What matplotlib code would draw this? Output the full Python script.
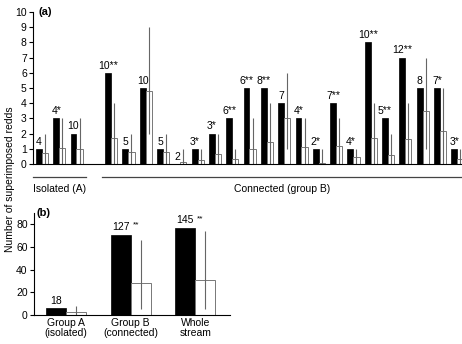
import numpy as np
import matplotlib
matplotlib.use("Agg")
import matplotlib.pyplot as plt
import matplotlib.transforms as mtransforms

plt.rcParams['font.family'] = ['Liberation Sans', 'DejaVu Sans']

# panel (a): pairs of observed (black) / expected (white) per reach
labels_a = ["4", "4*", "10", "10**", "5", "10", "5", "2", "3*", "3*", "6**",
            "6**", "8**", "7", "4*", "2*", "7**", "4*", "10**", "5**", "12**",
            "8", "7*", "3*"]
slots_a = [0, 1, 2, 4, 5, 6, 7, 8, 9, 10, 11, 12, 13, 14, 15, 16, 17, 18,
           19, 20, 21, 22, 23, 24]
observed_a = [1, 3, 2, 6, 1, 5, 1, 0, 1, 2, 3, 5, 5, 4, 3, 1, 4, 1, 8, 3, 7,
              5, 5, 1]
expected_a = [0.7, 1.05, 1.0, 1.7, 0.8, 4.8, 0.8, 0.1, 0.25, 0.65, 0.3,
              0.97, 1.47, 3.05, 1.14, 0.05, 1.2, 0.44, 1.7, 0.6, 1.65, 3.5,
              2.17, 0.35]
lo_a = [0, 0, 0, 0, 0, 2, 0, 0, 0, 0, 0, 0, 0, 1, 0, 0, 0, 0, 0, 0, 0, 1, 0, 0]
hi_a = [2, 3, 3, 4, 2, 9, 2, 1, 1, 2, 1, 3, 4, 6, 3, 1, 3, 1, 4, 2, 4, 7, 5, 1]

group_names = ["Isolated (A)", "Connected (group B)"]
group_spans = [(-0.17, 2.89), (3.81, 25.5)]

# panel (b): totals
groups_b = ["Group A\n(isolated)", "Group B\n(connected)", "Whole\nstream"]
observed_b = [6, 71, 77]
expected_b = [3, 28, 31]
lo_b = [0, 5, 5]
hi_b = [8, 66, 74]
labels_b = ["18", "127", "145"]
stars_b = ["", "**", "**"]

W, H = 462, 344
fig = plt.figure(figsize=(W / 100, H / 100), dpi=100)
edge = "#777777"
errc = "#666666"
fs = 7.5

# ---------- panel (a)
ax = fig.add_axes([33 / W, 1 - 164 / H, 1 - 33 / W, 152 / H])
x = np.array(slots_a, dtype=float)
bw, ww = 0.34, 0.36
ax.bar(x, observed_a, width=bw, align='edge', color='black', edgecolor='black', lw=0.5)
ax.bar(x + bw, expected_a, width=ww, align='edge', color='white', edgecolor=edge, lw=0.7)
ax.vlines(x + bw + ww / 2, lo_a, hi_a, color=errc, lw=0.8)
for xi, v, t in zip(x, observed_a, labels_a):
    ax.text(xi + bw / 2, v + 0.15, t, ha='center', va='bottom', fontsize=fs)
ax.set_xlim(-0.17, 24.62)
ax.set_ylim(0, 10)
ax.set_yticks(range(11))
ax.set_xticks([])
for s in ['top', 'right']:
    ax.spines[s].set_visible(False)
ax.spines['left'].set_linewidth(0.8)
ax.spines['bottom'].set_linewidth(0.8)
ax.tick_params(axis='y', labelsize=fs, length=3, width=0.8, pad=1.5)
ax.text(0.012, 1.0, "(a)", transform=ax.transAxes, fontsize=8, fontweight='bold',
        va='center', ha='left')
trans = mtransforms.blended_transform_factory(ax.transData, ax.transAxes)
for name, (a, b) in zip(group_names, group_spans):
    ax.plot([a, b], [-0.083, -0.083], color='#444444', lw=0.9, transform=trans, clip_on=False)
    mid = (a + min(b, 24.62)) / 2
    ax.text(mid, -0.165, name, transform=trans, ha='center', va='center', fontsize=fs)

# ---------- panel (b)
bx = fig.add_axes([34 / W, 1 - 315 / H, (230 - 34) / W, 102 / H])
xb = np.arange(len(groups_b))
bwb = 0.31
bx.bar(xb - bwb, observed_b, width=bwb, align='edge', color='black', edgecolor='black', lw=0.5)
bx.bar(xb, expected_b, width=bwb, align='edge', color='white', edgecolor=edge, lw=0.7)
bx.vlines(xb + bwb / 2, lo_b, hi_b, color=errc, lw=0.8)
for xi, v, t, s in zip(xb, observed_b, labels_b, stars_b):
    txt = bx.text(xi - bwb / 2, v + 2, t, ha='center', va='bottom', fontsize=fs)
    if s:
        bx.annotate(s, xy=(1, 0.35), xycoords=txt, xytext=(2.5, 0),
                    textcoords='offset points', fontsize=6, ha='left', va='bottom')
bx.set_xlim(-0.5, 2.54)
bx.set_ylim(0, 90)
bx.set_yticks([0, 20, 40, 60, 80])
bx.set_xticks(xb)
bx.set_xticklabels(groups_b, fontsize=fs, linespacing=1.0)
for s in ['top', 'right']:
    bx.spines[s].set_visible(False)
bx.spines['left'].set_linewidth(0.8)
bx.spines['bottom'].set_linewidth(0.8)
bx.tick_params(axis='y', labelsize=fs, length=3, width=0.8, pad=1.5)
bx.tick_params(axis='x', length=0, pad=2)
bx.text(0.015, 1.0, "(b)", transform=bx.transAxes, fontsize=8, fontweight='bold',
        va='center', ha='left')

fig.text(10 / W, 1 - 179 / H, "Number of superimposed redds", rotation=90,
         ha='center', va='center', fontsize=fs)

fig.savefig("out.png", dpi=100)
